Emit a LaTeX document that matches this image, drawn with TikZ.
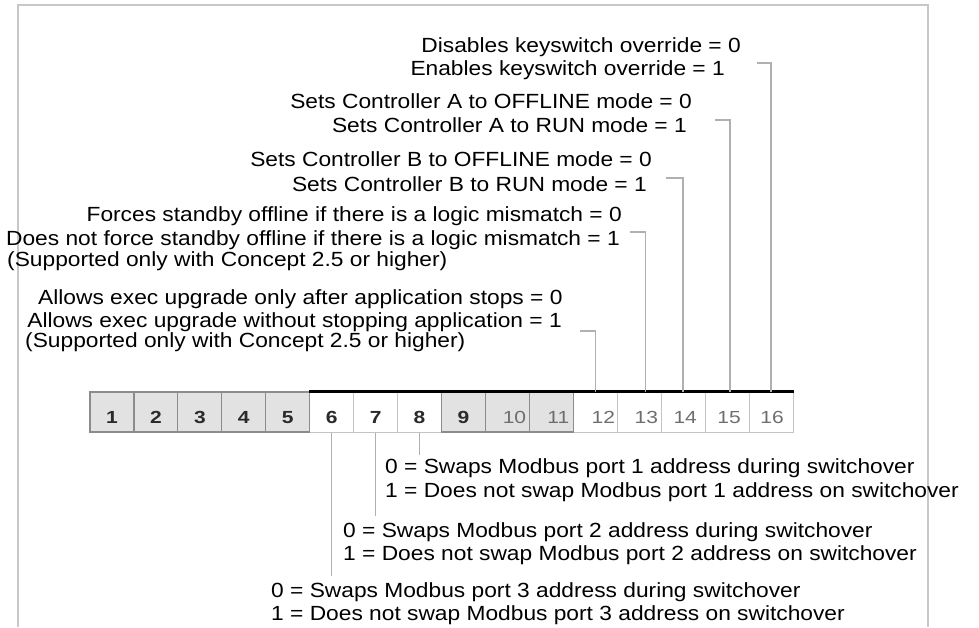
\documentclass[tikz,border=0pt]{standalone}
\usepackage{fontspec}
\setmainfont{Liberation Sans}
\usepackage{graphicx}
\definecolor{framegray}{HTML}{C8C8C8}
\definecolor{linegray}{HTML}{B0B0B0}
\definecolor{cellfill}{HTML}{E2E2E2}
\definecolor{celldark}{HTML}{8C8C8C}
\definecolor{celllight}{HTML}{C4C4C4}
\definecolor{numdark}{HTML}{2A2A2A}
\definecolor{numgray}{HTML}{6E6E6E}
\newcommand{\wt}[1]{\scalebox{1.11}[1]{#1}}
\newcommand{\wn}[1]{\scalebox{1.2}[1]{#1}}
\begin{document}
\begin{tikzpicture}[x=1pt,y=-1pt,
  lbl/.style={inner sep=0pt, font=\fontsize{20.5}{22}\selectfont},
  lblR/.style={lbl, anchor=base east},
  lblL/.style={lbl, anchor=base west},
  graycell/.style={draw=celldark, fill=cellfill, line width=1.2pt, minimum width=43.94pt, minimum height=40pt, inner sep=0pt},
  whitecell/.style={draw=celllight, fill=white, line width=1pt, minimum width=43.94pt, minimum height=40pt, inner sep=0pt},
  numbold/.style={inner sep=0pt, anchor=base, text=numdark, font=\fontsize{17.5}{17.5}\selectfont\bfseries},
  numlight/.style={inner sep=0pt, anchor=base, text=numgray, font=\fontsize{17.5}{17.5}\selectfont},
  conn/.style={draw=linegray, line width=1.5pt},
  frameline/.style={draw=framegray, line width=2pt}
]
\useasboundingbox (0,0) rectangle (979,627);
% frame
\draw[frameline] (18,627) -- (18,5) -- (928,5) -- (928,627);

% register cells
\foreach \i in {6,7,8,12,13,14,15,16}
  \node[whitecell] (c\i) at ({90+(\i-0.5)*43.94},412) {};
\foreach \i in {1,2,3,4,5,9,10,11}
  \node[graycell] (c\i) at ({90+(\i-0.5)*43.94},412) {};
\draw[line width=3pt] (c6.north west) -- (c16.north east);

% numbers
\foreach \i in {1,...,9}
  \node[numbold] (n\i) at ({90+(\i-0.5)*43.94},423.5) {\wn{\i}};
\foreach \i/\dx in {10/7,11/7,12/8,13/7,14/2,15/2,16/1}
  \node[numlight] (n\i) at ({90+(\i-0.5)*43.94+\dx},423.5) {\wn{\i}};

% upper labels
\node[lblR] (t1) at (741,52) {\wt{Disables keyswitch override = 0}};
\node[lblR] (t2) at (725,75) {\wt{Enables keyswitch override = 1}};
\node[lblR] (t3) at (692,108) {\wt{Sets Controller A to OFFLINE mode = 0}};
\node[lblR] (t4) at (687,132) {\wt{Sets Controller A to RUN mode = 1}};
\node[lblR] (t5) at (652,166) {\wt{Sets Controller B to OFFLINE mode = 0}};
\node[lblR] (t6) at (647,191) {\wt{Sets Controller B to RUN mode = 1}};
\node[lblR] (t7) at (622,221) {\wt{Forces standby offline if there is a logic mismatch = 0}};
\node[lblR] (t8) at (620,245) {\wt{Does not force standby offline if there is a logic mismatch = 1}};
\node[lblL] (t9) at (7,266) {\wt{(Supported only with Concept 2.5 or higher)}};
\node[lblL] (t10) at (38,304) {\wt{Allows exec upgrade only after application stops = 0}};
\node[lblR] (t11) at (562,327) {\wt{Allows exec upgrade without stopping application = 1}};
\node[lblL] (t12) at (25,347) {\wt{(Supported only with Concept 2.5 or higher)}};

% lower labels
\node[lblL] (b1) at (385,473) {\wt{0 = Swaps Modbus port 1 address during switchover}};
\node[lblL] (b2) at (385,497) {\wt{1 = Does not swap Modbus port 1 address on switchover}};
\node[lblL] (b3) at (343,537) {\wt{0 = Swaps Modbus port 2 address during switchover}};
\node[lblL] (b4) at (343,560) {\wt{1 = Does not swap Modbus port 2 address on switchover}};
\node[lblL] (b5) at (271,597) {\wt{0 = Swaps Modbus port 3 address during switchover}};
\node[lblL] (b6) at (271,620) {\wt{1 = Does not swap Modbus port 3 address on switchover}};

% hook coordinates
\coordinate (h16) at (757,63);
\coordinate (h15) at (715,120);
\coordinate (h14) at (666,178);
\coordinate (h13) at (630,232);
\coordinate (h12) at (580,331);
\coordinate (e8) at (423,455);
\coordinate (e7) at (377,516);
\coordinate (e6) at (332,576);

% connectors upper
\draw[conn] (h16) -| ([xshift=0pt]c16.north);
\draw[conn] (h15) -| ([xshift=3pt]c15.north);
\draw[conn] (h14) -| ([xshift=0pt]c14.north);
\draw[conn] (h13) -| ([xshift=6pt]c13.north);
\draw[conn] (h12) -| ([xshift=0pt]c12.north);
% connectors lower
\draw[conn] (c8.south) -- (c8.south |- e8);
\draw[conn] (c7.south) -- (c7.south |- e7);
\draw[conn] (c6.south) -- (c6.south |- e6);
\end{tikzpicture}
\end{document}
